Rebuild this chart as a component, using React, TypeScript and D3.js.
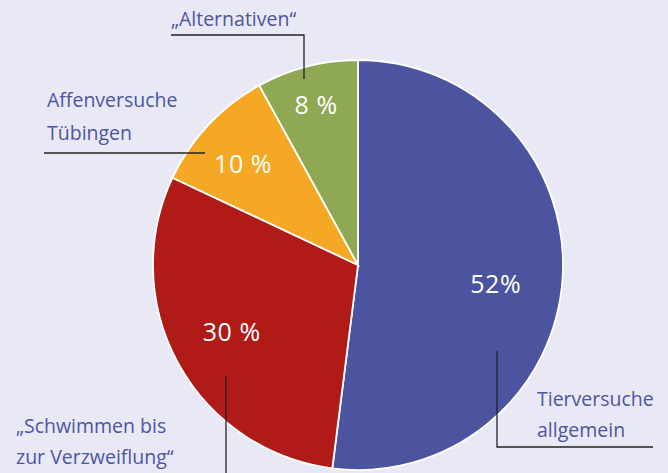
import * as d3 from "d3";

const categories = ["Tierversuche allgemein", "„Schwimmen bis zur Verzweiflung“", "Affenversuche Tübingen", "„Alternativen“"];
const values = [52, 30, 10, 8];
const valueLabels = ["52%", "30 %", "10 %", "8 %"];
const colors = ["#4c549f", "#b01a17", "#f5a823", "#8fa853"];

const width = 668;
const height = 473;
const cx = 358;
const cy = 265;
const radius = 205;

// where the white percent labels sit (radius, angle tweak in degrees)
const labelRadius = [139, 143, 153, 165];
const labelTweak = [4.2, 0.8, -1.9, -0.3];

const textColor = "#4d55a3";
const font = "'Open Sans', 'Noto Sans', sans-serif";

export default function App() {
  const pie = d3
    .pie<number>()
    .sort(null)
    .startAngle(0)
    .endAngle(2 * Math.PI)(values);

  const arc = d3.arc<d3.PieArcDatum<number>>().innerRadius(0).outerRadius(radius);

  const labelPos = (d: d3.PieArcDatum<number>, i: number) => {
    const a = (d.startAngle + d.endAngle) / 2 + (labelTweak[i] * Math.PI) / 180;
    return [labelRadius[i] * Math.sin(a), -labelRadius[i] * Math.cos(a)];
  };

  return (
    <svg
      width={width}
      height={height}
      style={{ position: "absolute", left: 0, top: 0, background: "#e9e9f5" }}
    >
      <rect width={width} height={height} fill="#e9e9f5" />
      <g transform={`translate(${cx},${cy})`}>
        {pie.map((d, i) => (
          <path key={categories[i]} d={arc(d) || ""} fill={colors[i]} stroke="#fff" strokeWidth={1.8} />
        ))}
        {pie.map((d, i) => {
          const [x, y] = labelPos(d, i);
          return (
            <text
              key={"l" + i}
              x={x}
              y={y}
              dy="0.35em"
              textAnchor="middle"
              fill="#fff"
              fontFamily={font}
              fontSize={25}
              letterSpacing={0.6}
            >
              {valueLabels[i]}
            </text>
          );
        })}
      </g>

      <g stroke="#222" strokeWidth={1.3} fill="none">
        <polyline points="171,35 304,35 304,79" />
        <line x1={44} y1={153} x2={205} y2={153} />
        <line x1={226} y1={376} x2={226} y2={473} />
        <polyline points="497,351 497,447 653,447" />
      </g>

      <g fill={textColor} fontFamily={font} fontSize={19.5} fontWeight={500}>
        <text x={171} y={26}>„Alternativen“</text>
        <text x={47} y={107}>Affenversuche</text>
        <text x={47} y={140}>Tübingen</text>
        <text x={16} y={433}>„Schwimmen bis</text>
        <text x={16} y={464}>zur Verzweiflung“</text>
        <text x={537} y={406}>Tierversuche</text>
        <text x={537} y={437}>allgemein</text>
      </g>
    </svg>
  );
}
